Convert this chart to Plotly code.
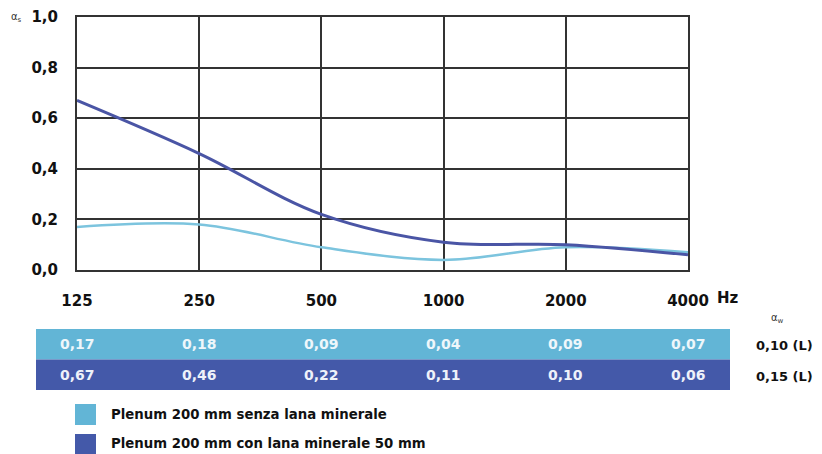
import plotly.graph_objects as go

freqs = ["125", "250", "500", "1000", "2000", "4000"]
senza = [0.17, 0.18, 0.09, 0.04, 0.09, 0.07]
con = [0.67, 0.46, 0.22, 0.11, 0.10, 0.06]
senza_label = ["0,17", "0,18", "0,09", "0,04", "0,09", "0,07"]
con_label = ["0,67", "0,46", "0,22", "0,11", "0,10", "0,06"]
alpha_w = ["0,10 (L)", "0,15 (L)"]
names = ["Plenum 200 mm senza lana minerale", "Plenum 200 mm con lana minerale 50 mm"]
y_ticks = [0, 0.2, 0.4, 0.6, 0.8, 1.0]
y_ticktext = ["0,0", "0,2", "0,4", "0,6", "0,8", "1,0"]

LIGHT = "#62b5d6"
DARK = "#4459a9"
LIGHT_LINE = "#7cc4de"
DARK_LINE = "#4a55a5"
FONT = "DejaVu Sans"
xs = list(range(len(freqs)))

# page body has an 8px margin; plot area spans window px x 77..688, y 17..270
PX0, PW = 77.0, 611.0


def px(X):
    return (X - PX0) / PW


def py(Y):
    return (270 - Y) / 253.0


fig = go.Figure()
fig.add_trace(go.Scatter(x=xs, y=senza, mode="lines", name=names[0],
                         line=dict(color=LIGHT_LINE, width=2.5, shape="spline", smoothing=1.0)))
fig.add_trace(go.Scatter(x=xs, y=con, mode="lines", name=names[1],
                         line=dict(color=DARK_LINE, width=3, shape="spline", smoothing=1.0)))

shapes = []
shapes.append(dict(type="rect", xref="paper", yref="paper", x0=px(36), x1=px(730), y0=py(359.5), y1=py(329),
                   fillcolor=LIGHT, line=dict(width=0), layer="below"))
shapes.append(dict(type="rect", xref="paper", yref="paper", x0=px(36), x1=px(730), y0=py(390), y1=py(359.5),
                   fillcolor=DARK, line=dict(width=0), layer="below"))
shapes.append(dict(type="rect", xref="paper", yref="paper", x0=px(75), x1=px(96), y0=py(425), y1=py(404),
                   fillcolor=LIGHT, line=dict(width=0)))
shapes.append(dict(type="rect", xref="paper", yref="paper", x0=px(75), x1=px(96), y0=py(456), y1=py(434),
                   fillcolor=DARK, line=dict(width=0)))

ann = []
for i in xs:
    ann.append(dict(x=i, y=py(344), xref="x", yref="paper", text=senza_label[i], showarrow=False,
                    xanchor="center", yanchor="middle",
                    font=dict(family=FONT, size=14, color="#eef7fb", weight="bold")))
    ann.append(dict(x=i, y=py(375), xref="x", yref="paper", text=con_label[i], showarrow=False,
                    xanchor="center", yanchor="middle",
                    font=dict(family=FONT, size=14, color="#eef2fa", weight="bold")))
for k, Y in enumerate([345, 376]):
    ann.append(dict(x=px(754), y=py(Y), xref="paper", yref="paper", text=alpha_w[k],
                    xanchor="left", yanchor="middle", showarrow=False,
                    font=dict(family=FONT, size=13, color="#111", weight="bold")))
ann.append(dict(x=px(777), y=py(318), xref="paper", yref="paper", text="α<sub>w</sub>",
                xanchor="center", yanchor="middle",
                showarrow=False, font=dict(family=FONT, size=10, color="#333")))
ann.append(dict(x=px(715), y=py(298), xref="paper", yref="paper", text="Hz",
                xanchor="left", yanchor="middle", showarrow=False,
                font=dict(family=FONT, size=15, color="#111", weight="bold")))
ann.append(dict(x=px(16), y=py(18), xref="paper", yref="paper", text="α<sub>s</sub>",
                xanchor="center", yanchor="middle",
                showarrow=False, font=dict(family=FONT, size=10, color="#333")))
for k, Y in enumerate([414, 443]):
    ann.append(dict(x=px(109), y=py(Y), xref="paper", yref="paper", text=names[k],
                    xanchor="left", yanchor="middle", showarrow=False,
                    font=dict(family=FONT, size=13.3, color="#111", weight="bold")))

fig.update_layout(
    width=806, height=446,
    margin=dict(l=69, r=126, t=9, b=184),
    paper_bgcolor="white", plot_bgcolor="white",
    showlegend=False,
    shapes=shapes, annotations=ann,
    xaxis=dict(range=[0, 5], tickvals=xs, ticktext=freqs, showgrid=True, gridcolor="#333",
               gridwidth=1.5, zeroline=False, showline=True, linecolor="#333", linewidth=2,
               mirror=True, ticks="outside", ticklen=16, tickcolor="rgba(0,0,0,0)", automargin=False,
               tickfont=dict(family=FONT, size=15, color="#111", weight="bold")),
    yaxis=dict(range=[0, 1], tickvals=y_ticks, ticktext=y_ticktext, showgrid=True, gridcolor="#333",
               gridwidth=1.5, zeroline=False, showline=True, linecolor="#333", linewidth=2,
               mirror=True, ticks="outside", ticklen=14, tickcolor="rgba(0,0,0,0)", automargin=False,
               tickfont=dict(family=FONT, size=15, color="#111", weight="bold")),
)

fig.write_html("out.html")
